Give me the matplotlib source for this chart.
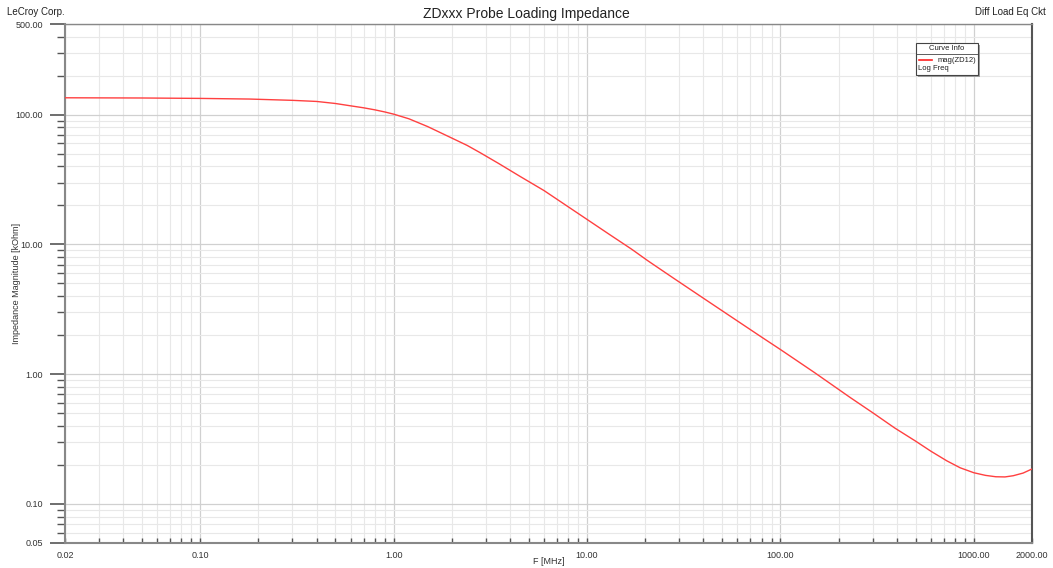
import matplotlib.pyplot as plt
from matplotlib.ticker import FixedLocator, FixedFormatter, NullFormatter
from matplotlib.patches import Rectangle
from matplotlib.lines import Line2D

plt.rcParams['font.family'] = ['Liberation Sans', 'DejaVu Sans']

# frequency [MHz] and impedance magnitude [kOhm]
freq_mhz = [0.02, 0.05, 0.1, 0.18, 0.3, 0.4, 0.5, 0.6, 0.7, 0.8, 0.9, 1.0, 1.2,
            1.5, 1.9, 2.4, 2.8, 3.5, 4.5, 6, 8, 10, 13, 17, 20.6, 28, 40, 60, 80,
            100, 150, 230, 300, 390, 500, 600, 725, 850, 1000, 1150, 1300, 1450,
            1600, 1800, 2000]
zd12_kohm = [135, 134.5, 133.5, 132, 129, 126.5, 122, 117, 113, 109, 105, 101, 93,
             81, 68.5, 58, 51, 42, 33.5, 26, 19.5, 15.6, 12, 9.2, 7.5, 5.5, 3.85,
             2.57, 1.93, 1.55, 1.03, 0.66, 0.505, 0.385, 0.305, 0.255, 0.215,
             0.19, 0.174, 0.166, 0.162, 0.1615, 0.165, 0.173, 0.186]

x_ticks = [0.02, 0.1, 1, 10, 100, 1000, 2000]
x_labels = ['0.02', '0.10', '1.00', '10.00', '100.00', '1000.00', '2000.00']
y_ticks = [0.05, 0.1, 1, 10, 100, 500]
y_labels = ['0.05', '0.10', '1.00', '10.00', '100.00', '500.00']

fig = plt.figure(figsize=(10.53, 5.68), dpi=100)
ax = fig.add_axes([65 / 1053, 25 / 568, 967 / 1053, 519 / 568])

ax.plot(freq_mhz, zd12_kohm, color='#ff4040', lw=1.0, zorder=3)

ax.set_xscale('log')
ax.set_yscale('log')
ax.set_xlim(0.02, 2000)
ax.set_ylim(0.05, 500)

# minor positions 2..9 per decade
x_minor = [m * 10.0 ** e for e in range(-2, 4) for m in range(2, 10)
           if 0.02 < m * 10.0 ** e < 2000]
y_minor = [m * 10.0 ** e for e in range(-2, 3) for m in range(2, 10)
           if 0.05 < m * 10.0 ** e < 500]

ax.xaxis.set_major_locator(FixedLocator(x_ticks))
ax.xaxis.set_major_formatter(FixedFormatter(x_labels))
ax.xaxis.set_minor_locator(FixedLocator(x_minor))
ax.xaxis.set_minor_formatter(NullFormatter())
ax.yaxis.set_major_locator(FixedLocator(y_ticks))
ax.yaxis.set_major_formatter(FixedFormatter(y_labels))
ax.yaxis.set_minor_locator(FixedLocator(y_minor))
ax.yaxis.set_minor_formatter(NullFormatter())

ax.grid(which='major', color='#d0d0d0', lw=0.9)
ax.grid(which='minor', color='#e8e8e8', lw=0.8)
ax.set_axisbelow(True)

ax.tick_params(axis='y', which='major', direction='out', length=11, width=1.2,
               color='#555555', labelsize=6.5, labelcolor='#333333', pad=5)
ax.tick_params(axis='y', which='minor', direction='out', length=6, width=1.0,
               color='#555555')
ax.tick_params(axis='x', which='major', direction='in', length=3.6, width=1.0,
               color='#555555', labelsize=6.5, labelcolor='#333333', pad=6)
ax.tick_params(axis='x', which='minor', direction='in', length=3.6, width=1.0,
               color='#555555')

for side in ['left', 'bottom', 'top', 'right']:
    ax.spines[side].set_color('#888888')
ax.spines['left'].set_linewidth(1.5)
ax.spines['bottom'].set_linewidth(1.5)
ax.spines['top'].set_linewidth(1.0)
ax.spines['right'].set_linewidth(1.5)
ax.spines['right'].set_color('#555555')

ax.set_xlabel('F [MHz]', fontsize=6.5, color='#333333')
ax.xaxis.set_label_coords(0.5, -14 / 519)
ax.set_ylabel('Impedance Magnitude [kOhm]', fontsize=6.5, color='#333333')
ax.yaxis.set_label_coords(-44 / 967, 0.5)

fig.text(526 / 1053, 1 - 14 / 568, 'ZDxxx Probe Loading Impedance', ha='center',
         va='center', fontsize=10, color='#222222')
fig.text(7 / 1053, 1 - 12 / 568, 'LeCroy Corp.', ha='left', va='center',
         fontsize=7, color='#222222')
fig.text(1046 / 1053, 1 - 12 / 568, 'Diff Load Eq Ckt', ha='right', va='center',
         fontsize=7, color='#222222')

# "Curve Info" box
bx, by, bw, bh = 916 / 1053, 1 - 75 / 568, 62 / 1053, 32 / 568
fig.add_artist(Rectangle((bx + 2 / 1053, by - 2 / 568), bw, bh, transform=fig.transFigure,
                         facecolor='#a0a0a0', edgecolor='none', zorder=5))
fig.add_artist(Rectangle((bx, by), bw, bh, transform=fig.transFigure,
                         facecolor='white', edgecolor='#444444', lw=0.8, zorder=6))
fig.add_artist(Line2D([bx, bx + bw], [1 - 54 / 568, 1 - 54 / 568], transform=fig.transFigure,
                      color='#444444', lw=0.6, zorder=7))
fig.text(bx + bw / 2, 1 - 48 / 568, 'Curve Info', ha='center', va='center',
         fontsize=5.5, color='#222222', zorder=7)
fig.add_artist(Line2D([919 / 1053, 932 / 1053], [1 - 60 / 568, 1 - 60 / 568],
                      transform=fig.transFigure, color='#ff2020', lw=1.2, zorder=7))
fig.text(976 / 1053, 1 - 60 / 568, 'mag(ZD12)', ha='right', va='center',
         fontsize=5.5, color='#222222', zorder=7)
fig.text(918 / 1053, 1 - 68 / 568, 'Log Freq', ha='left', va='center',
         fontsize=5.5, color='#222222', zorder=7)

fig.savefig('out.png', dpi=100, facecolor='white')
